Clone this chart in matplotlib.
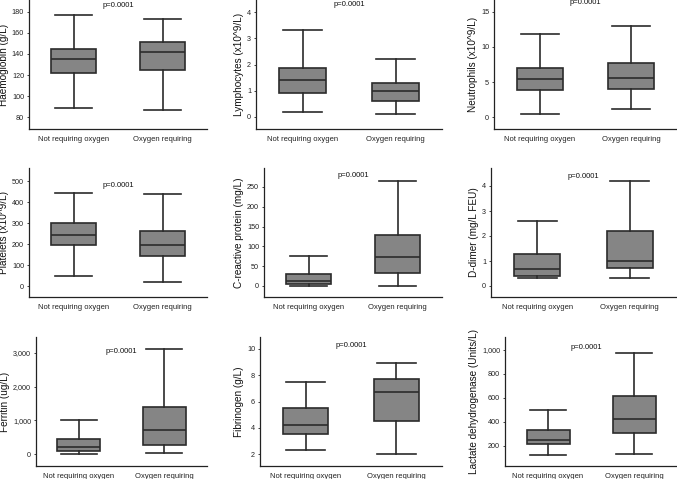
import matplotlib
matplotlib.use("Agg")
import matplotlib.pyplot as plt
from matplotlib.ticker import FuncFormatter

plt.rcParams['font.family'] = ['Liberation Sans', 'DejaVu Sans']

groups = ["Not requiring oxygen", "Oxygen requiring"]

ylabels = ["Haemoglobin (g/L)", "Lymphocytes (x10^9/L)", "Neutrophils (x10^9/L)",
           "Platelets (x10^9/L)", "C-reactive protein (mg/L)", "D-dimer (mg/L FEU)",
           "Ferritin (ug/L)", "Fibrinogen (g/L)", "Lactate dehydrogenase (Units/L)"]

# [whislo, q1, med, q3, whishi] for (not requiring, requiring)
haemoglobin = [[89, 121.5, 135, 144.5, 177], [87, 125, 142, 151.5, 173]]
lymphocytes = [[0.2, 0.92, 1.4, 1.88, 3.3], [0.1, 0.62, 1.0, 1.28, 2.2]]
neutrophils = [[0.5, 3.8, 5.4, 6.95, 11.8], [1.1, 4.0, 5.6, 7.65, 13.05]]
platelets = [[46, 196, 245, 299, 444], [19, 145, 196, 263, 440]]
crp = [[1, 6, 12.5, 31, 75], [1, 32, 72, 128, 264]]
ddimer = [[0.32, 0.41, 0.69, 1.27, 2.59], [0.31, 0.72, 1.01, 2.19, 4.19]]
ferritin = [[0, 89, 208, 446, 1010], [20, 257, 703, 1386, 3109]]
fibrinogen = [[2.3, 3.55, 4.2, 5.52, 7.48], [2.0, 4.54, 6.7, 7.74, 8.9]]
ldh = [[125, 220, 253, 331, 501], [136, 304, 421, 616, 975]]

datasets = [haemoglobin, lymphocytes, neutrophils, platelets, crp, ddimer,
            ferritin, fibrinogen, ldh]

yticks = [[80, 100, 120, 140, 160, 180], [0, 1, 2, 3, 4], [0, 5, 10, 15],
          [0, 100, 200, 300, 400, 500], [0, 50, 100, 150, 200, 250], [0, 1, 2, 3, 4],
          [0, 1000, 2000, 3000], [2, 4, 6, 8, 10], [200, 400, 600, 800, 1000]]
ylims = [(68.6, 191.4), (-0.46, 4.46), (-1.7, 16.7), (-52, 562), (-28, 298),
         (-0.44, 4.72), (-356, 3475), (1.09, 10.91), (33, 1108)]
ptext_y = [186.5, 4.3, 16.3, 481, 280, 4.4, 3030, 10.23, 1017]
ptext_x = [1.5, 1.5, 1.5, 1.5, 1.5, 1.5, 1.5, 1.5, 1.45]

W, H = 677, 479
# axes boxes in pixels: left, right, top, bottom
px = [(29, 207, 0, 129), (256, 442, 0, 129), (494, 677, 0, 129),
      (29, 207, 168, 297), (264, 442, 168, 297), (491, 676, 168, 297),
      (36, 207, 337, 466), (260, 442, 337, 466), (505, 677, 337, 466)]

fig = plt.figure(figsize=(W / 100, H / 100), dpi=100)

edge = '#2b2b2b'
for i, (l, r, t, b) in enumerate(px):
    ax = fig.add_axes([l / W, (H - b) / H, (r - l) / W, (b - t) / H])
    stats = []
    for g, v in zip(groups, datasets[i]):
        stats.append(dict(label=g, whislo=v[0], q1=v[1], med=v[2], q3=v[3], whishi=v[4], fliers=[]))
    ax.bxp(stats, positions=[1, 2], widths=0.5, patch_artist=True, showfliers=False,
           boxprops=dict(facecolor='#858585', edgecolor=edge, linewidth=1.2),
           medianprops=dict(color=edge, linewidth=1.2),
           whiskerprops=dict(color=edge, linewidth=1.2),
           capprops=dict(color=edge, linewidth=1.2),
           capwidths=0.42)
    ax.set_xlim(0.5, 2.5)
    ax.set_ylim(*ylims[i])
    ax.set_yticks(yticks[i])
    if i in (6, 8):
        ax.yaxis.set_major_formatter(FuncFormatter(lambda v, p: f"{int(v):,}"))
    for s in ('top', 'right'):
        ax.spines[s].set_visible(False)
    for s in ('left', 'bottom'):
        ax.spines[s].set_linewidth(0.9)
        ax.spines[s].set_color('#222222')
    ax.tick_params(axis='y', labelsize=5.2, length=1.5, width=0.6, pad=2, colors='#222222')
    ax.tick_params(axis='x', labelsize=5.5, length=0, pad=5, colors='#222222')
    ax.set_ylabel(ylabels[i], fontsize=7.2, labelpad=2, color='#111111')
    ax.text(ptext_x[i], ptext_y[i], "p=0.0001", fontsize=5.5, ha='center', va='center',
            color='#111111')

fig.savefig("out.png", dpi=100)
